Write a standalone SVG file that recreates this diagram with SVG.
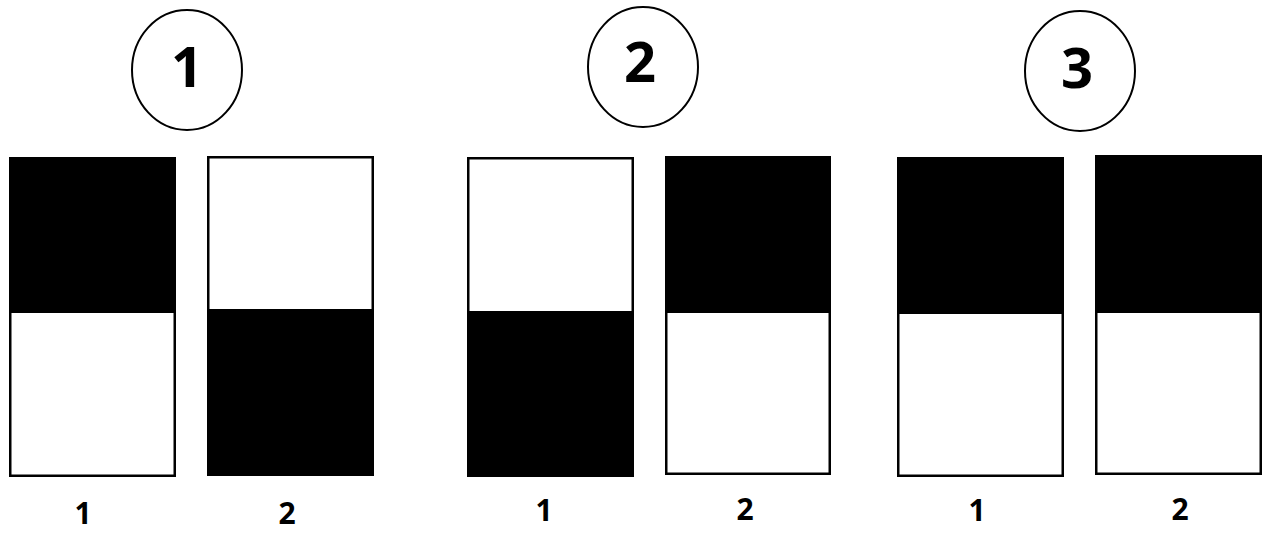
<svg xmlns="http://www.w3.org/2000/svg" width="1266" height="533" viewBox="0 0 1266 533">
<style>
.bg{fill:#ffffff}
.circ{fill:none;stroke:#000;stroke-width:2}
.box{fill:none;stroke:#000;stroke-width:2.5}
.blk{fill:#000}
.big{font-family:"Open Sans","Liberation Sans",sans-serif;font-weight:bold;font-size:56px;fill:#000;text-anchor:middle}
.lbl{font-family:"Open Sans","Liberation Sans",sans-serif;font-weight:bold;font-size:30px;fill:#000;text-anchor:middle}
</style>
<rect class="bg" x="0" y="0" width="1266" height="533"/>
<g id="group1">
  <ellipse class="circ" cx="187" cy="70" rx="55" ry="60"/>
  <text class="big" x="187" y="87">1</text>
  <g id="g1-bar1">
    <rect class="blk" x="9" y="157" width="166" height="156"/>
    <rect class="box" x="10.25" y="158.25" width="164.5" height="317.5"/>
    <text class="lbl" x="83" y="524">1</text>
  </g>
  <g id="g1-bar2">
    <rect class="blk" x="207" y="309" width="166" height="167"/>
    <rect class="box" x="208.25" y="157.25" width="164.5" height="317.5"/>
    <text class="lbl" x="287" y="524">2</text>
  </g>
</g>
<g id="group2">
  <ellipse class="circ" cx="643" cy="67" rx="55" ry="60"/>
  <text class="big" x="640" y="82">2</text>
  <g id="g2-bar1">
    <rect class="blk" x="467" y="311" width="166" height="166"/>
    <rect class="box" x="468.25" y="158.25" width="164.5" height="317.5"/>
    <text class="lbl" x="544" y="521">1</text>
  </g>
  <g id="g2-bar2">
    <rect class="blk" x="665" y="156" width="166" height="157"/>
    <rect class="box" x="666.25" y="157.25" width="163.5" height="316.5"/>
    <text class="lbl" x="745" y="520">2</text>
  </g>
</g>
<g id="group3">
  <ellipse class="circ" cx="1080" cy="71" rx="55" ry="60"/>
  <text class="big" x="1077" y="88">3</text>
  <g id="g3-bar1">
    <rect class="blk" x="897" y="157" width="166" height="157"/>
    <rect class="box" x="898.25" y="158.25" width="164.5" height="317.5"/>
    <text class="lbl" x="977" y="521">1</text>
  </g>
  <g id="g3-bar2">
    <rect class="blk" x="1095" y="155" width="167" height="158"/>
    <rect class="box" x="1096.25" y="156.25" width="164.5" height="317.5"/>
    <text class="lbl" x="1180" y="520">2</text>
  </g>
</g>
<g id="connectors"></g>
</svg>
